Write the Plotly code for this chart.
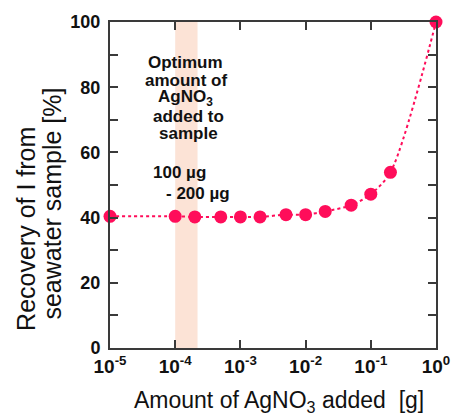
import plotly.graph_objects as go

# Data
agno3_g = [1e-5, 1e-4, 2e-4, 5e-4, 1e-3, 2e-3, 5e-3, 1e-2, 2e-2, 5e-2, 1e-1, 2e-1, 1.0]
recovery_pct = [40.4, 40.4, 40.2, 40.2, 40.2, 40.2, 40.9, 40.9, 41.9, 43.8, 47.2, 53.9, 100.0]
x_tickvals = [1e-5, 1e-4, 1e-3, 1e-2, 1e-1, 1e0]
x_ticktext = ["10<sup>-5</sup>", "10<sup>-4</sup>", "10<sup>-3</sup>", "10<sup>-2</sup>",
              "10<sup>-1</sup>", "10<sup>0</sup>"]
y_tickvals = [0, 20, 40, 60, 80, 100]
band_range = [1e-4, 2.2e-4]

PINK = "#FF0D5A"
AXC = "#3a3a3a"
FONT = "Liberation Sans, Arial, sans-serif"

fig = go.Figure()
fig.add_trace(go.Scatter(
    x=agno3_g, y=recovery_pct, mode="lines+markers",
    line=dict(color=PINK, width=2, dash="dot", shape="spline", smoothing=0.8),
    marker=dict(color=PINK, size=13),
    cliponaxis=False, showlegend=False,
))

fig.add_shape(type="rect", xref="x", yref="paper", x0=band_range[0], x1=band_range[1],
              y0=0, y1=1, fillcolor="#FCE3D6", line_width=0, layer="below")

W, H = 462, 416
L, R, T, B = 110, 19, 19, 68
pw, ph = W - L - R, H - T - B

def px(xp):
    return (xp - L) / pw

def py(yp):
    return (H - B - yp) / ph

lines = [
    ("Optimum", 187, 60),
    ("amount of", 188, 78),
    ("AgNO<sub>3</sub>", 187, 96),
    ("added to", 190, 114),
    ("sample", 190, 132),
    ("100 µg", 181, 171),
    ("- 200 µg", 200, 192),
]
for txt, xx, yy in lines:
    fig.add_annotation(text=txt, xref="paper", yref="paper", x=px(xx), y=py(yy),
                       showarrow=False, xanchor="center", yanchor="middle",
                       font=dict(family=FONT, size=17, color="#111", weight="bold"))

# y-axis title (two lines)
fig.add_annotation(text="Recovery of I from", xref="paper", yref="paper",
                   x=px(24), y=py(228), textangle=-90, showarrow=False,
                   xanchor="center", yanchor="middle",
                   font=dict(family=FONT, size=25, color="#111"))
fig.add_annotation(text="seawater sample [%]", xref="paper", yref="paper",
                   x=px(51), y=py(202), textangle=-90, showarrow=False,
                   xanchor="center", yanchor="middle",
                   font=dict(family=FONT, size=25, color="#111"))
# x-axis title
fig.add_annotation(text="Amount of AgNO<sub>3</sub> added  [g]", xref="paper", yref="paper",
                   x=px(283), y=py(402), showarrow=False,
                   xanchor="center", yanchor="middle",
                   font=dict(family=FONT, size=23, color="#111"))

fig.update_xaxes(type="log", range=[-5, 0], tickvals=x_tickvals, ticktext=x_ticktext,
                 ticks="inside", ticklen=8, tickwidth=2, tickcolor=AXC,
                 showline=True, linecolor=AXC, linewidth=2, mirror="ticks",
                 showgrid=False, zeroline=False, ticklabelstandoff=0,
                 tickfont=dict(family=FONT, size=19, color="#111", weight="bold"))
fig.update_yaxes(range=[0, 100], tickvals=y_tickvals,
                 ticks="inside", ticklen=8, tickwidth=2, tickcolor=AXC,
                 minor=dict(dtick=10, ticks="inside", ticklen=8, tickwidth=2, tickcolor=AXC, showgrid=False),
                 showline=True, linecolor=AXC, linewidth=2, mirror="ticks",
                 showgrid=False, zeroline=False, ticklabelstandoff=4,
                 tickfont=dict(family=FONT, size=18, color="#111", weight="bold"))

fig.update_layout(width=W, height=H, margin=dict(l=L, r=R, t=T, b=B),
                  paper_bgcolor="white", plot_bgcolor="white")
fig.write_html("out.html")
